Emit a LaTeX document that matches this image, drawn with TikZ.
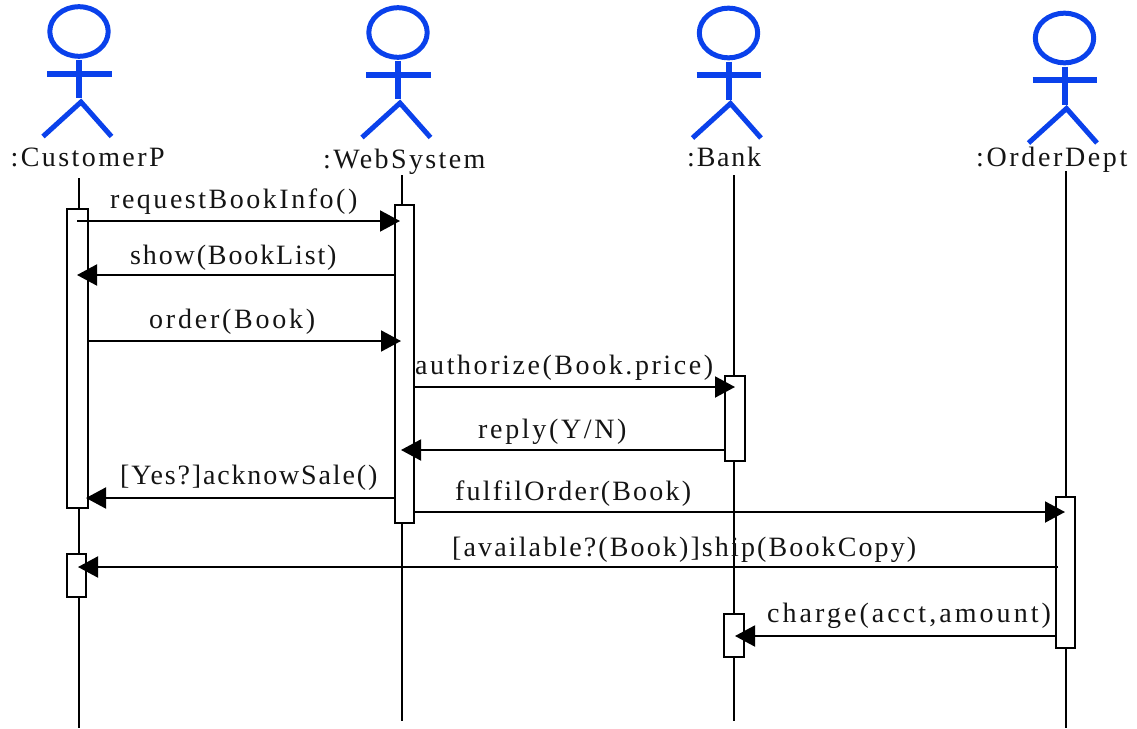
\documentclass[tikz,border=0pt]{standalone}
\usepackage{fontspec}
\setmainfont{Liberation Serif}
\usetikzlibrary{arrows.meta}
\definecolor{actorblue}{RGB}{10,65,235}
\tikzset{
  x=1pt,y=-1pt,
  lbl/.style={anchor=base west,inner sep=0pt,text=black!92,
    font=\fontsize{28}{30}\selectfont\addfontfeature{LetterSpace=#1}},
  lifeline/.style={draw=black,line width=2pt},
  activation/.style={draw=black,line width=2pt,fill=white,inner sep=0pt,outer sep=0pt,minimum width=#1,anchor=north west},
  msg/.style={draw=black,line width=2pt,-{Triangle[length=20pt,width=21pt]}},
  pics/actor/.style={code={
    \draw[actorblue,line width=5pt] (0,0) ellipse [x radius=29.2pt,y radius=24.8pt];
    \draw[actorblue,line width=6pt] (0,28.5) -- (0,66.5);
    \draw[actorblue,line width=6pt] (-32,42) -- (32.5,42);
    \draw[actorblue,line width=5pt,line join=miter] (-36,105) -- (2,70.5) -- (32.5,105);
  }}
}
\begin{document}
\begin{tikzpicture}
\useasboundingbox (0,0) rectangle (1137,728);
% lifelines
\coordinate (l1t) at (79,178); \coordinate (l1b) at (79,728);
\coordinate (l2t) at (402,175); \coordinate (l2b) at (402,721);
\coordinate (l3t) at (734,175); \coordinate (l3b) at (734,721);
\coordinate (l4t) at (1066,171); \coordinate (l4b) at (1066,728);
\draw[lifeline] (l1t) -- (l1b);
\draw[lifeline] (l2t) -- (l2b);
\draw[lifeline] (l3t) -- (l3b);
\draw[lifeline] (l4t) -- (l4b);
% activations
\node[activation=21pt,minimum height=299pt] (a1) at (66.5,208.7) {};
\node[activation=19pt,minimum height=43pt] (a1b) at (66.5,554) {};
\node[activation=19.5pt,minimum height=318pt] (a2) at (394.5,204.5) {};
\node[activation=20pt,minimum height=85.5pt] (a3) at (724.5,375.5) {};
\node[activation=20pt,minimum height=43.5pt] (a3b) at (723.5,613.5) {};
\node[activation=19.5pt,minimum height=151.3pt] (a4) at (1055.5,496.5) {};
% message ends
\coordinate (m1s) at (77,221); \coordinate (m1e) at (400,221);
\coordinate (m2s) at (394.5,275); \coordinate (m2e) at (77,275);
\coordinate (m3s) at (87,341); \coordinate (m3e) at (401,341);
\coordinate (m4s) at (414.5,387); \coordinate (m4e) at (735,387);
\coordinate (m5s) at (724,450); \coordinate (m5e) at (401,450);
\coordinate (m6s) at (394.5,498); \coordinate (m6e) at (86,498);
\coordinate (m7s) at (414.5,512); \coordinate (m7e) at (1065,512);
\coordinate (m8s) at (1058,567); \coordinate (m8e) at (78,567);
\coordinate (m9s) at (1055,636); \coordinate (m9e) at (735,636);
\draw[msg] (m1s) -- (m1e);
\draw[msg] (m2s) -- (m2e);
\draw[msg] (m3s) -- (m3e);
\draw[msg] (m4s) -- (m4e);
\draw[msg] (m5s) -- (m5e);
\draw[msg] (m6s) -- (m6e);
\draw[msg] (m7s) -- (m7e);
\draw[msg] (m8s) -- (m8e);
\draw[msg] (m9s) -- (m9e);
% actors
\pic at (79,31.5) {actor};
\pic at (398,32.5) {actor};
\pic at (728.5,33) {actor};
\pic at (1064.5,38) {actor};
% labels
\node[lbl=8.6] (n1) at (10.5,166) {:CustomerP};
\node[lbl=8.5] (n2) at (323,168) {:WebSystem};
\node[lbl=6.4] (n3) at (687,166) {:Bank};
\node[lbl=9.4] (n4) at (976,166) {:OrderDept};
\node[lbl=9] (t1) at (110,208.5) {requestBookInfo()};
\node[lbl=6.7] (t2) at (130,264) {show(BookList)};
\node[lbl=9.9] (t3) at (149,328) {order(Book)};
\node[lbl=9.2] (t4) at (415,374) {authorize(Book.price)};
\node[lbl=9.5] (t5) at (478,438) {reply(Y/N)};
\node[lbl=6.6] (t6) at (120,484) {[Yes?]acknowSale()};
\node[lbl=7.9] (t7) at (455,500) {fulfilOrder(Book)};
\node[lbl=7.6] (t8) at (452,556) {[available?(Book)]ship(BookCopy)};
\node[lbl=10.9] (t9) at (767,622) {charge(acct,amount)};
\end{tikzpicture}
\end{document}
